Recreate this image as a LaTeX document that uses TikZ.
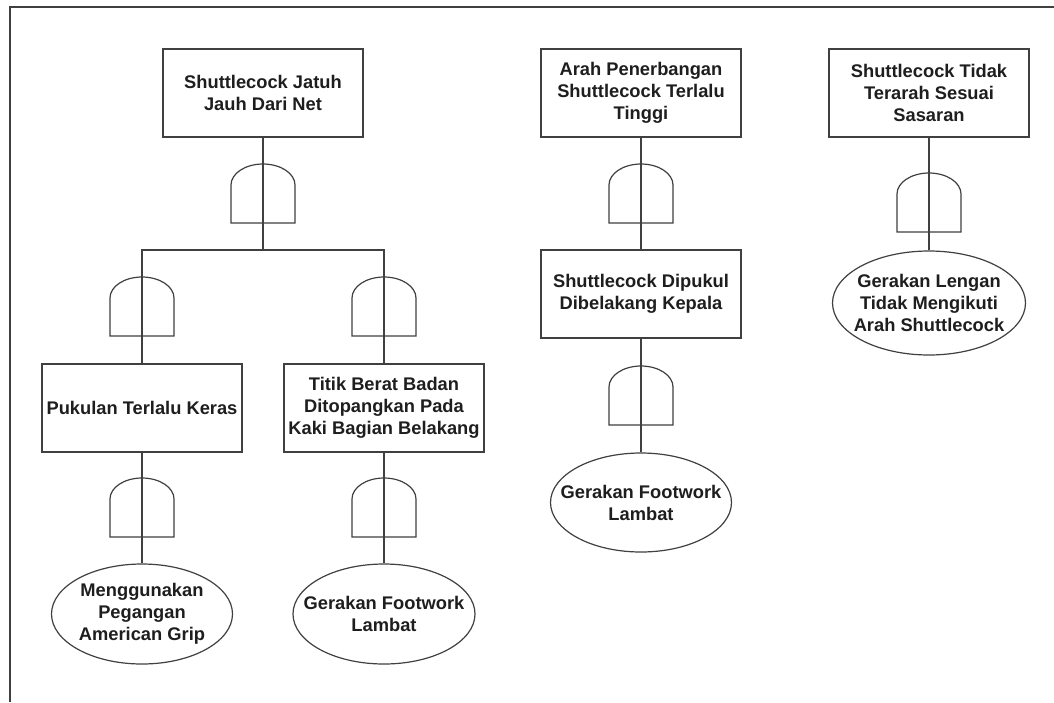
\documentclass[tikz,border=0pt]{standalone}
\usepackage{fontspec}
\setmainfont{Liberation Sans}
\usetikzlibrary{shapes.geometric}
\definecolor{ink}{HTML}{1E1E1E}
\definecolor{linec}{HTML}{404040}
\tikzset{
  every node/.style={font=\fontsize{18.3}{22}\selectfont\bfseries, text=ink, align=center, inner sep=0pt},
  evbox/.style={draw=linec, line width=1.2pt, rectangle, minimum width=200pt, minimum height=88pt},
  evell/.style={draw=linec, line width=1.2pt, ellipse, minimum width=181pt, minimum height=100pt},
  conn/.style={draw=linec, line width=1.2pt},
  andgate/.pic={\draw[linec, line width=1.2pt] (-32pt,0pt) -- (-32pt,38pt) arc[start angle=180, end angle=0, x radius=32pt, y radius=21pt] -- (32pt,0pt) -- cycle;}
}
\begin{document}
\begin{tikzpicture}[x=1pt,y=-1pt]
\useasboundingbox (0,0) rectangle (1054,702);
\fill[white] (0,0) rectangle (1054,702);
\draw[linec, line width=1.2pt] (1054,7) -- (10,7) -- (10,702);

% left tree
\node[evbox] (t1) at (263,93) {Shuttlecock Jatuh\\Jauh Dari Net};
\coordinate (j1) at (263,250);
\node[evbox] (p1) at (142,408) {Pukulan Terlalu Keras};
\node[evbox] (p2) at (384,408) {Titik Berat Badan\\Ditopangkan Pada\\Kaki Bagian Belakang};
\node[evell, label={center:{Menggunakan\\Pegangan\\American Grip}}] (e1) at (142,614) {};
\node[evell, minimum width=182pt, label={center:{Gerakan Footwork\\Lambat}}] (e2) at (384,614) {};

% middle tree
\node[evbox] (t2) at (641,93) {Arah Penerbangan\\Shuttlecock Terlalu\\Tinggi};
\node[evbox] (m1) at (641,294) {Shuttlecock Dipukul\\Dibelakang Kepala};
\node[evell, minimum height=99pt, label={center:{Gerakan Footwork\\Lambat}}] (e3) at (641,502.5) {};

% right tree
\node[evbox] (t3) at (929,93) {Shuttlecock Tidak\\Terarah Sesuai\\Sasaran};
\node[evell, minimum width=193pt, minimum height=104pt, label={center:{Gerakan Lengan\\Tidak Mengikuti\\Arah Shuttlecock}}] (e4) at (929,303) {};

% connectors
\draw[conn] (t1.south) -- (j1);
\draw[conn] (p1.north) |- (j1) -| (p2.north);
\draw[conn] (p1.south) -- (e1.north);
\draw[conn] (p2.south) -- (e2.north);
\draw[conn] (t2.south) -- (m1.north);
\draw[conn] (m1.south) -- (e3.north);
\draw[conn] (t3.south) -- (e4.north);

% gates
\pic at (263,223) {andgate};
\pic at (142,336) {andgate};
\pic at (384,336) {andgate};
\pic at (142,537) {andgate};
\pic at (384,537) {andgate};
\pic at (641,223) {andgate};
\pic at (641,425) {andgate};
\pic at (929,232) {andgate};
\end{tikzpicture}
\end{document}
